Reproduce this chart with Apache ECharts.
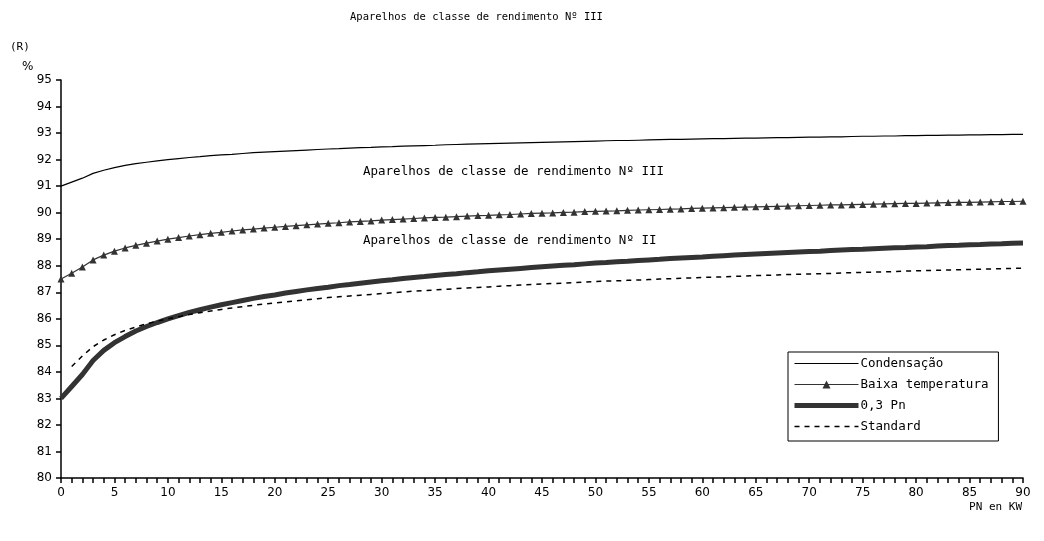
<!DOCTYPE html>
<html>
<head>
<meta charset="utf-8">
<script src="https://cdn.jsdelivr.net/npm/echarts@6/dist/echarts.min.js"></script>
<style>
  html, body { margin: 0; padding: 0; background: #fff; }
  #main { width: 1044px; height: 541px; }
</style>
</head>
<body>
<div id="main"></div>
<script>
// Pn (kW) categories 0..90
var pn = [0,1,2,3,4,5,6,7,8,9,10,11,12,13,14,15,16,17,18,19,20,21,22,23,24,25,26,27,28,29,30,
  31,32,33,34,35,36,37,38,39,40,41,42,43,44,45,46,47,48,49,50,51,52,53,54,55,56,57,58,59,60,
  61,62,63,64,65,66,67,68,69,70,71,72,73,74,75,76,77,78,79,80,81,82,83,84,85,86,87,88,89,90];

var condensacao = [91.00,91.15,91.30,91.48,91.60,91.70,91.78,91.85,91.90,91.95,92.00,
  92.04,92.08,92.11,92.15,92.18,92.20,92.23,92.26,92.28,92.30,
  92.32,92.34,92.36,92.38,92.40,92.41,92.43,92.45,92.46,92.48,
  92.49,92.51,92.52,92.53,92.54,92.56,92.57,92.58,92.59,92.60,
  92.61,92.62,92.63,92.64,92.65,92.66,92.67,92.68,92.69,92.70,
  92.71,92.72,92.72,92.73,92.74,92.75,92.76,92.76,92.77,92.78,
  92.79,92.79,92.80,92.81,92.81,92.82,92.83,92.83,92.84,92.85,
  92.85,92.86,92.86,92.87,92.88,92.88,92.89,92.89,92.90,92.90,
  92.91,92.91,92.92,92.92,92.93,92.93,92.94,92.94,92.95,92.95];

var baixaTemp = [87.50,87.72,87.95,88.22,88.40,88.55,88.67,88.77,88.85,88.93,89.00,
  89.06,89.12,89.17,89.22,89.26,89.31,89.35,89.38,89.42,89.45,
  89.48,89.51,89.54,89.57,89.60,89.62,89.65,89.67,89.69,89.72,
  89.74,89.76,89.78,89.80,89.82,89.83,89.85,89.87,89.89,89.90,
  89.92,89.93,89.95,89.97,89.98,89.99,90.01,90.02,90.04,90.05,
  90.06,90.07,90.09,90.10,90.11,90.12,90.13,90.14,90.16,90.17,
  90.18,90.19,90.20,90.21,90.22,90.23,90.24,90.25,90.26,90.27,
  90.28,90.29,90.29,90.30,90.31,90.32,90.33,90.34,90.35,90.35,
  90.36,90.37,90.38,90.39,90.39,90.40,90.41,90.42,90.42,90.43];

var pn03 = [83.00,83.45,83.90,84.43,84.81,85.10,85.33,85.54,85.71,85.86,86.00,
  86.12,86.24,86.34,86.44,86.53,86.61,86.69,86.77,86.84,86.90,
  86.97,87.03,87.09,87.14,87.19,87.25,87.29,87.34,87.39,87.43,
  87.47,87.52,87.56,87.59,87.63,87.67,87.70,87.74,87.77,87.81,
  87.84,87.87,87.90,87.93,87.96,87.99,88.02,88.04,88.07,88.10,
  88.12,88.15,88.17,88.20,88.22,88.24,88.27,88.29,88.31,88.33,
  88.36,88.38,88.40,88.42,88.44,88.46,88.48,88.50,88.52,88.54,
  88.55,88.57,88.59,88.61,88.62,88.64,88.66,88.68,88.69,88.71,
  88.72,88.74,88.76,88.77,88.79,88.80,88.82,88.83,88.85,88.86];

var standard = ['-',84.20,84.60,84.95,85.20,85.40,85.56,85.69,85.81,85.91,86.00,
  86.08,86.16,86.23,86.29,86.35,86.41,86.46,86.51,86.56,86.60,
  86.64,86.68,86.72,86.76,86.80,86.83,86.86,86.89,86.92,86.95,
  86.98,87.01,87.04,87.06,87.09,87.11,87.14,87.16,87.18,87.20,
  87.23,87.25,87.27,87.29,87.31,87.33,87.34,87.36,87.38,87.40,
  87.42,87.43,87.45,87.46,87.48,87.50,87.51,87.53,87.54,87.56,
  87.57,87.58,87.60,87.61,87.63,87.64,87.65,87.67,87.68,87.69,
  87.70,87.71,87.73,87.74,87.75,87.76,87.77,87.78,87.80,87.81,
  87.82,87.83,87.84,87.85,87.86,87.87,87.88,87.89,87.90,87.91];

var seriesNames = ['Condensação', 'Baixa temperatura', '0,3 Pn', 'Standard'];
var titleText = 'Aparelhos de classe de rendimento Nº III';
var noteIII = 'Aparelhos de classe de rendimento Nº III';
var noteII = 'Aparelhos de classe de rendimento Nº II';

var FONT = 'DejaVu Sans';
var WIDE = '"DejaVu Sans Mono"';
var chart = echarts.init(document.getElementById('main'));

// legend icons: plain line samples (triangle only for Baixa temperatura)
var legendData = [
  { name: seriesNames[0], itemStyle: { opacity: 0 }, lineStyle: { width: 1.2, color: '#000' } },
  { name: seriesNames[1], lineStyle: { width: 1.2, color: '#333' } },
  { name: seriesNames[2], itemStyle: { opacity: 0 }, lineStyle: { width: 5, color: '#333' } },
  { name: seriesNames[3], itemStyle: { opacity: 0 }, lineStyle: { width: 1.5, color: '#000', type: [5, 5] } }
];

chart.setOption({
  backgroundColor: '#fff',
  animation: false,
  textStyle: { fontFamily: FONT, color: '#000' },
  grid: { left: 61, right: 21, top: 80, bottom: 63 },
  legend: {
    orient: 'vertical',
    left: 788,
    top: 352,
    data: legendData,
    itemWidth: 64,
    itemHeight: 10,
    itemGap: 8,
    padding: [5, 10, 8, 4],
    borderColor: '#000',
    borderWidth: 1,
    backgroundColor: '#fff',
    textStyle: { fontFamily: 'DejaVu Sans Mono', fontSize: 12.5, color: '#000', padding: [0, 0, 0, -3] }
  },
  xAxis: {
    type: 'category',
    data: pn,
    boundaryGap: false,
    axisLine: { lineStyle: { color: '#000', width: 1.5 } },
    axisTick: { interval: 0, length: 5, lineStyle: { color: '#000', width: 1.5 } },
    axisLabel: { interval: 4, fontSize: 12, color: '#000', margin: 9, fontFamily: FONT },
    splitLine: { show: false }
  },
  yAxis: {
    type: 'value',
    min: 80,
    max: 95,
    interval: 1,
    axisLine: { show: true, lineStyle: { color: '#000', width: 1.5 } },
    axisTick: { show: true, length: 5, lineStyle: { color: '#000', width: 1.5 } },
    axisLabel: { fontSize: 12, color: '#000', margin: 9, fontFamily: FONT },
    splitLine: { show: false }
  },
  graphic: [
    { type: 'text', left: 350, top: 12, style: { text: titleText, font: '10.5px ' + WIDE, fill: '#000' } },
    { type: 'text', left: 10, top: 42, style: { text: '(R)', font: '11px ' + WIDE, fill: '#000' } },
    { type: 'text', left: 22, top: 61, style: { text: '%', font: '12px "DejaVu Sans"', fill: '#000' } },
    { type: 'text', right: 22, top: 502, style: { text: 'PN en KW', font: '11px ' + WIDE, fill: '#000' } },
    { type: 'text', left: 363, top: 165, style: { text: noteIII, font: '12.5px ' + WIDE, fill: '#000' } },
    { type: 'text', left: 363, top: 234, style: { text: noteII, font: '12.5px ' + WIDE, fill: '#000' } }
  ],
  series: [
    {
      name: seriesNames[0], type: 'line', data: condensacao,
      symbol: 'none', lineStyle: { color: '#000', width: 1.2 }, itemStyle: { color: '#000' }
    },
    {
      name: seriesNames[1], type: 'line', data: baixaTemp,
      symbol: 'triangle', symbolSize: 7, showAllSymbol: true,
      lineStyle: { color: '#333', width: 1.2 }, itemStyle: { color: '#333' }
    },
    {
      name: seriesNames[2], type: 'line', data: pn03,
      symbol: 'none', lineStyle: { color: '#333', width: 5 }, itemStyle: { color: '#333' }
    },
    {
      name: seriesNames[3], type: 'line', data: standard,
      symbol: 'none', lineStyle: { color: '#000', width: 1.5, type: [5, 5] }, itemStyle: { color: '#000' }
    }
  ]
});
</script>
</body>
</html>
